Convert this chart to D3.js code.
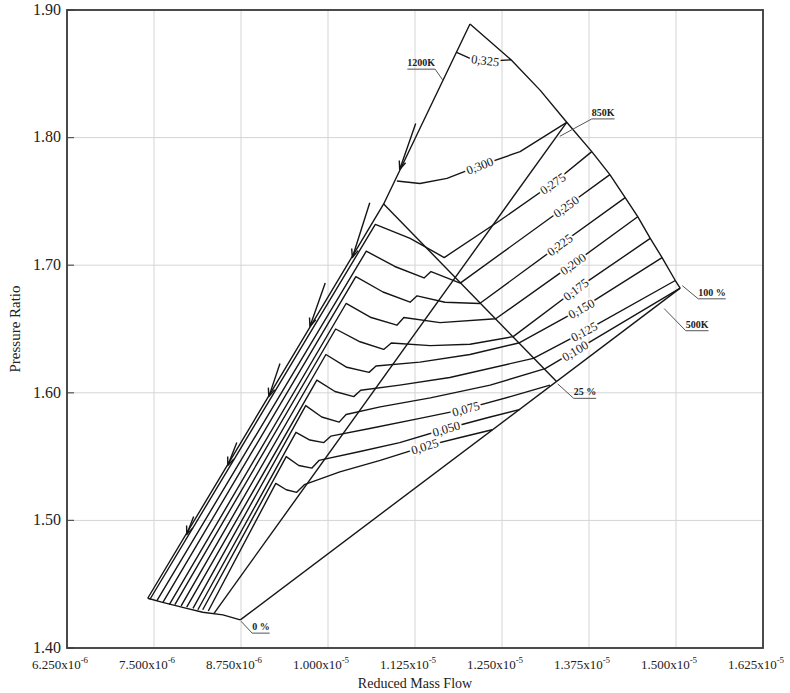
<!DOCTYPE html>
<html>
<head>
<meta charset="utf-8">
<script src="https://cdn.jsdelivr.net/npm/d3@7"></script>
<style>
body { margin: 0; background: #fff; }
text { font-family: "Liberation Serif", "Times New Roman", serif; fill: #222; }
</style>
</head>
<body>
<svg id="chart" width="790" height="693"></svg>
<script>
// mass flow is kept in units of 1e-6, pressure ratio as is
var xTicks = [6.25, 7.5, 8.75, 10, 11.25, 12.5, 13.75, 15, 16.25];
var xTickText = ["6.250", "7.500", "8.750", "1.000", "1.125", "1.250", "1.375", "1.500", "1.625"];
var xTickExp = ["-6", "-6", "-6", "-5", "-5", "-5", "-5", "-5", "-5"];
var yTicks = [1.40, 1.50, 1.60, 1.70, 1.80, 1.90];

// temperature lines
var t1200 = [[7.41, 1.439], [10.80, 1.748], [12.04, 1.889]];
var t850 = [[8.36, 1.427], [13.43, 1.812]];
var t500 = [[8.74, 1.422], [15.06, 1.682]];

// 0 %, 25 %, 100 % lines
var p0 = [[7.41, 1.439], [7.61, 1.436], [7.97, 1.431], [8.20, 1.428], [8.49, 1.426], [8.74, 1.422]];
var p25 = [[10.80, 1.748], [13.28, 1.609]];
var p100 = [[12.04, 1.889], [12.63, 1.861], [13.05, 1.837], [13.43, 1.812], [13.79, 1.789], [14.05, 1.771],
            [14.27, 1.753], [14.45, 1.738], [14.63, 1.721], [14.80, 1.706], [14.99, 1.688], [15.06, 1.682]];

// constant lines 0,025 ... 0,325
var f325 = [[11.84, 1.867], [12.04, 1.862], [12.33, 1.860], [12.63, 1.861]];
var f300 = [[10.99, 1.766], [11.32, 1.764], [11.71, 1.768], [12.18, 1.778], [12.76, 1.789], [13.43, 1.812]];
var f275 = [[7.44, 1.438], [10.68, 1.732], [11.18, 1.721], [11.67, 1.706], [12.47, 1.735], [13.23, 1.764], [13.79, 1.789]];
var f250 = [[7.54, 1.437], [10.55, 1.711], [10.96, 1.699], [11.38, 1.690], [11.48, 1.695], [11.90, 1.686], [13.42, 1.746], [14.05, 1.771]];
var f225 = [[7.63, 1.436], [10.40, 1.691], [10.79, 1.679], [11.18, 1.671], [11.28, 1.676], [11.68, 1.671], [12.18, 1.670], [13.33, 1.716], [14.27, 1.753]];
var f200 = [[7.72, 1.434], [10.26, 1.670], [10.62, 1.659], [10.99, 1.653], [11.09, 1.659], [11.61, 1.655], [12.41, 1.658], [13.52, 1.701], [14.45, 1.738]];
var f175 = [[7.80, 1.434], [10.11, 1.650], [10.46, 1.640], [10.80, 1.634], [10.91, 1.639], [11.47, 1.637], [12.04, 1.638], [12.66, 1.644], [13.56, 1.681], [14.63, 1.721]];
var f150 = [[7.89, 1.433], [9.97, 1.630], [10.27, 1.620], [10.59, 1.616], [10.69, 1.621], [11.32, 1.624], [12.04, 1.630], [12.74, 1.639], [13.64, 1.666], [14.80, 1.706]];
var f125 = [[7.97, 1.432], [9.84, 1.610], [10.10, 1.601], [10.37, 1.597], [10.47, 1.602], [11.03, 1.606], [11.75, 1.612], [12.95, 1.627], [13.68, 1.648], [14.99, 1.688]];
var f100 = [[8.06, 1.431], [9.68, 1.590], [9.91, 1.581], [10.16, 1.577], [10.26, 1.583], [10.75, 1.589], [11.47, 1.596], [12.33, 1.606], [13.12, 1.619], [15.06, 1.682]];
var f075 = [[8.13, 1.430], [9.54, 1.569], [9.74, 1.563], [9.94, 1.561], [10.04, 1.566], [10.60, 1.572], [11.32, 1.580], [11.95, 1.587], [12.62, 1.597], [13.19, 1.606]];
var f050 = [[8.20, 1.430], [9.40, 1.550], [9.58, 1.543], [9.77, 1.541], [9.87, 1.547], [10.46, 1.554], [11.03, 1.561], [11.71, 1.572], [12.33, 1.581], [12.76, 1.587]];
var f025 = [[8.28, 1.429], [9.25, 1.529], [9.40, 1.524], [9.55, 1.522], [9.66, 1.528], [10.17, 1.538], [10.75, 1.547], [11.39, 1.558], [11.90, 1.565], [12.36, 1.571]];

var fuelLines = [f325, f300, f275, f250, f225, f200, f175, f150, f125, f100, f075, f050, f025];
var fuelNames = ["0,325", "0,300", "0,275", "0,250", "0,225", "0,200", "0,175", "0,150", "0,125", "0,100", "0,075", "0,050", "0,025"];
var fuelLabelX = [12.26, 12.18, 13.23, 13.42, 13.33, 13.52, 13.56, 13.64, 13.68, 13.55, 11.98, 11.70, 11.39];

// arrows along the left boundary: [tail, head]
var arrows = [
  [[11.26, 1.811], [11.03, 1.775]],
  [[10.60, 1.749], [10.35, 1.706]],
  [[9.96, 1.686], [9.74, 1.652]],
  [[9.31, 1.623], [9.15, 1.597]],
  [[8.69, 1.561], [8.56, 1.543]],
  [[8.07, 1.503], [7.97, 1.489]]
];

// callouts: text, where the text sits, where the leader ends, which end of the underline it leaves from
var callText = ["1200K", "850K", "100 %", "500K", "25 %", "0 %"];
var callAt = [[11.14, 1.856], [13.79, 1.817], [15.32, 1.676], [15.14, 1.651], [13.53, 1.598], [8.91, 1.414]];
var callTo = [[11.65, 1.845], [13.33, 1.801], [15.09, 1.684], [14.83, 1.666], [13.30, 1.607], [8.75, 1.421]];
var callSide = ["end", "start", "start", "start", "start", "start"];

var margin = {top: 10, right: 27, bottom: 45, left: 67},
    width = 790 - margin.left - margin.right,
    height = 693 - margin.top - margin.bottom;

var svg = d3.select("#chart");
var g = svg.append("g").attr("transform", "translate(" + margin.left + "," + margin.top + ")");

var x = d3.scaleLinear().domain([6.25, 16.25]).range([0, width]);
var y = d3.scaleLinear().domain([1.40, 1.90]).range([height, 0]);

// grid
g.selectAll(".vgrid").data(xTicks).enter().append("line")
    .attr("x1", d => x(d)).attr("x2", d => x(d))
    .attr("y1", 0).attr("y2", height)
    .attr("stroke", "#d4d4d4").attr("stroke-width", 1);
g.selectAll(".hgrid").data(yTicks).enter().append("line")
    .attr("x1", 0).attr("x2", width)
    .attr("y1", d => y(d)).attr("y2", d => y(d))
    .attr("stroke", "#d4d4d4").attr("stroke-width", 1);

// little inner ticks on the left
g.selectAll(".ytk").data(yTicks).enter().append("line")
    .attr("x1", 0).attr("x2", 7)
    .attr("y1", d => y(d)).attr("y2", d => y(d))
    .attr("stroke", "#555").attr("stroke-width", 1.2);

// frame
g.append("rect").attr("width", width).attr("height", height)
    .attr("fill", "none").attr("stroke", "#3a3a3a").attr("stroke-width", 1.8);

// axis labels
g.selectAll(".ylab").data(yTicks).enter().append("text")
    .attr("x", -6).attr("y", d => y(d)).attr("dy", "0.3em")
    .attr("text-anchor", "end").style("font-size", "16px")
    .text(d => d.toFixed(2));

var xl = g.selectAll(".xlab").data(xTicks).enter().append("text")
    .attr("x", d => x(d) - 7).attr("y", height + 21)
    .attr("text-anchor", "middle").style("font-size", "13px");
xl.append("tspan").text((d, i) => xTickText[i] + "x10");
xl.append("tspan").attr("dy", -6).style("font-size", "9px").text((d, i) => xTickExp[i]);

svg.append("text")
    .attr("x", margin.left + width / 2).attr("y", 688)
    .attr("text-anchor", "middle").style("font-size", "14px")
    .text("Reduced Mass Flow");
svg.append("text")
    .attr("transform", "translate(20," + (margin.top + height / 2) + ") rotate(-90)")
    .attr("text-anchor", "middle").style("font-size", "15px")
    .text("Pressure Ratio");

var line = d3.line().x(d => x(d[0])).y(d => y(d[1]));

var ink = "#151515";
var curves = g.append("g").attr("fill", "none").attr("stroke", ink)
    .attr("stroke-width", 1.4).attr("stroke-linejoin", "round");

[t1200, t850, t500, p0, p25, p100].forEach(function(d) {
    curves.append("path").attr("d", line(d));
});
fuelLines.forEach(function(d) {
    curves.append("path").attr("d", line(d));
});

// arrows
arrows.forEach(function(a) {
    var x0 = x(a[0][0]), y0 = y(a[0][1]), x1 = x(a[1][0]), y1 = y(a[1][1]);
    var ang = Math.atan2(y1 - y0, x1 - x0), L = 9, s = 0.38;
    curves.append("path").attr("d",
        "M" + x0 + "," + y0 + "L" + x1 + "," + y1 +
        "M" + (x1 - L * Math.cos(ang - s)) + "," + (y1 - L * Math.sin(ang - s)) +
        "L" + x1 + "," + y1 +
        "L" + (x1 - L * Math.cos(ang + s)) + "," + (y1 - L * Math.sin(ang + s)));
});

// find point and slope on a polyline
function onLine(pts, xv) {
    for (var i = 0; i < pts.length - 1; i++) {
        var a = pts[i], b = pts[i + 1];
        if (xv >= a[0] && xv <= b[0]) {
            var t = (xv - a[0]) / (b[0] - a[0]);
            var px = x(xv), py = y(a[1] + t * (b[1] - a[1]));
            var ang = Math.atan2(y(b[1]) - y(a[1]), x(b[0]) - x(a[0])) * 180 / Math.PI;
            return [px, py, ang];
        }
    }
    return null;
}

fuelLines.forEach(function(d, i) {
    var p = onLine(d, fuelLabelX[i]);
    if (!p) return;
    g.append("text")
        .attr("transform", "translate(" + p[0] + "," + p[1] + ") rotate(" + p[2] + ")")
        .attr("text-anchor", "middle").attr("dy", "0.35em")
        .style("font-size", "12.5px")
        .attr("stroke", "#fff").attr("stroke-width", 4).attr("paint-order", "stroke")
        .text(fuelNames[i]);
});

// callouts
callText.forEach(function(t, i) {
    var tx = x(callAt[i][0]), ty = y(callAt[i][1]);
    var lab = g.append("text").attr("x", tx).attr("y", ty)
        .style("font-size", "10px").style("font-weight", "bold").text(t);
    var w = lab.node().getComputedTextLength();
    var ux = callSide[i] == "end" ? tx + w : tx;
    g.append("path")
        .attr("d", "M" + tx + "," + (ty + 3) + "L" + (tx + w) + "," + (ty + 3) +
                   "M" + ux + "," + (ty + 3) + "L" + x(callTo[i][0]) + "," + y(callTo[i][1]))
        .attr("fill", "none").attr("stroke", "#555").attr("stroke-width", 1);
});
</script>
</body>
</html>
